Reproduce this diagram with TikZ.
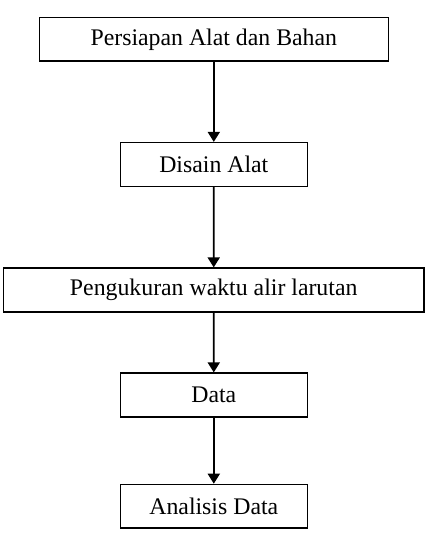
\documentclass[tikz,border=0pt]{standalone}
\usepackage{fontspec}
\setmainfont{Liberation Serif}
\usetikzlibrary{arrows.meta}
\begin{document}
\begin{tikzpicture}[x=1pt,y=-1pt,
  box/.style={draw=black,line width=1.6pt,rectangle,inner sep=0pt,minimum height=43.6pt,
    font=\fontsize{23.8}{28}\selectfont,text=black},
  arr/.style={line width=1.8pt,-{Triangle[length=10pt,width=12pt]}}]
\useasboundingbox (0,0) rectangle (426,540);
\fill[white] (0,0) rectangle (426,540);
\node[box,minimum width=349pt] (b1) at (213.8,39.3) {Persiapan Alat dan Bahan};
\node[box,minimum width=187pt] (b2) at (213.8,164.5) {Disain Alat};
\node[box,minimum width=420.7pt] (b3) at (213.7,290) {Pengukuran waktu alir larutan};
\node[box,minimum width=187pt] (b4) at (213.8,395) {Data};
\node[box,minimum width=187pt] (b5) at (213.8,506.3) {Analisis Data};
\draw[arr] (b1) -- (b2);
\draw[arr] (b2) -- (b3);
\draw[arr] (b3) -- (b4);
\draw[arr] (b4) -- (b5);
\end{tikzpicture}
\end{document}
